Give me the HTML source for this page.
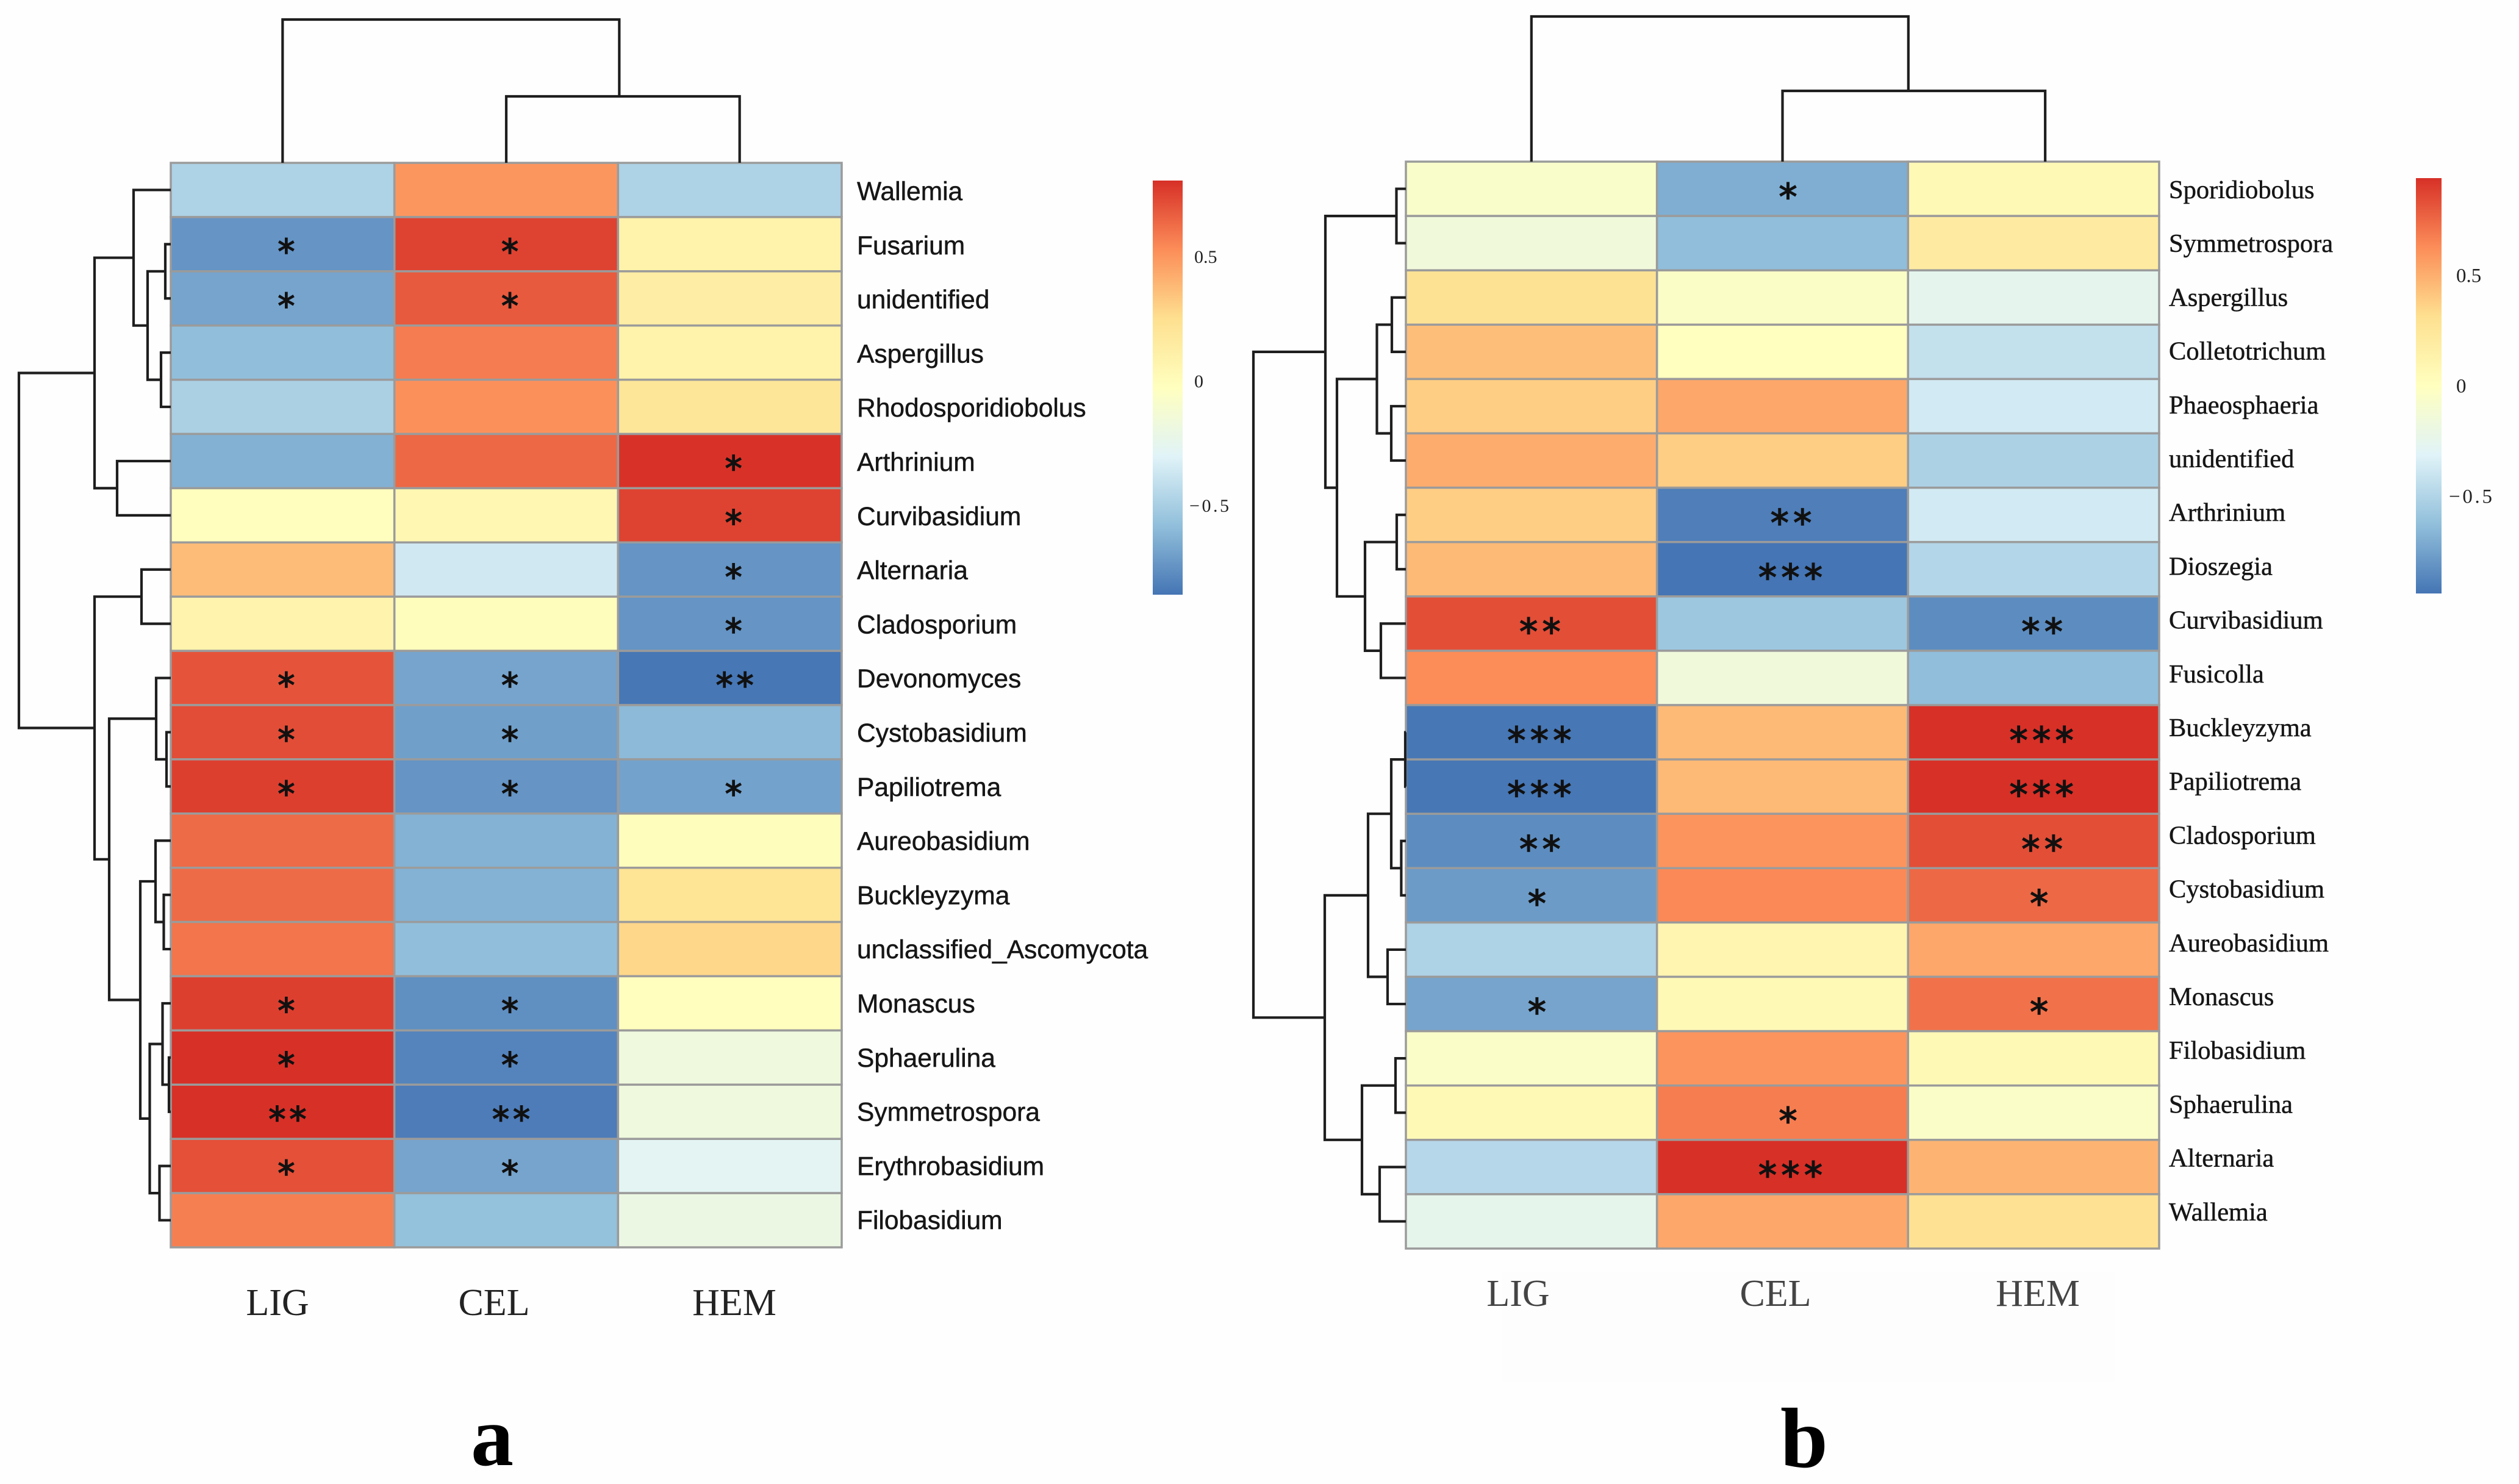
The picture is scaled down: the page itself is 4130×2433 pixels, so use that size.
<!DOCTYPE html>
<html lang="en">
<head>
<meta charset="utf-8">
<title>Clustered correlation heatmaps of fungal genera versus LIG, CEL and HEM</title>
<style>
html,body{margin:0;padding:0;background:#fefefe;}
svg{display:block;}
</style>
</head>
<body>
<svg id="chart" xmlns="http://www.w3.org/2000/svg" width="4130" height="2433" viewBox="0 0 4130 2433">
  <rect x="0" y="0" width="4130" height="2433" fill="#fefefe"/>
  <rect x="2463" y="2085" width="1005" height="180" fill="#fdfdfd"/>
</svg>
<script>
// ---------- shared data ----------
const palette = ['#4575B4','#91BFDB','#E0F3F8','#FFFFBF','#FEE090','#FC8D59','#D73027'];
const columns = ['LIG','CEL','HEM'];
const cbarTicks = [0.5,0,-0.5];

// ---------- panel a data ----------
const aRows = ['Wallemia','Fusarium','unidentified','Aspergillus','Rhodosporidiobolus','Arthrinium','Curvibasidium','Alternaria','Cladosporium','Devonomyces','Cystobasidium','Papiliotrema','Aureobasidium','Buckleyzyma','unclassified_Ascomycota','Monascus','Sphaerulina','Symmetrospora','Erythrobasidium','Filobasidium'];
const aLig = [-0.48,-0.74,-0.68,-0.58,-0.49,-0.635,-0.02,0.37,0.08,0.70,0.72,0.76,0.63,0.63,0.60,0.76,0.81,0.81,0.71,0.57];
const aCel = [0.50,0.75,0.68,0.58,0.52,0.64,0.05,-0.36,-0.01,-0.68,-0.70,-0.74,-0.63,-0.63,-0.58,-0.76,-0.80,-0.83,-0.68,-0.57];
const aHem = [-0.48,0.09,0.135,0.09,0.20,0.80,0.75,-0.74,-0.74,-0.85,-0.60,-0.69,-0.01,0.22,0.28,-0.02,-0.17,-0.17,-0.28,-0.20];
const aSigLig = [0,1,1,0,0,0,0,0,0,1,1,1,0,0,0,1,1,2,1,0];
const aSigCel = [0,1,1,0,0,0,0,0,0,1,1,1,0,0,0,1,1,2,1,0];
const aSigHem = [0,0,0,0,0,1,1,1,1,2,0,1,0,0,0,0,0,0,0,0];
const aRange = [-0.858,0.806];
const aRowTree = [249,
  [125,
    [61,0,[38,[9,1,2],[16,3,4]]],
    [88,5,6]],
  [125,
    [48,7,8],
    [101,
      [24,9,[7,10,11]],
      [50,
        [25,12,[11.5,13,14]],
        [34.5,[13.5,15,[3,16,17]],[18.5,18,19]]]]]];
const aColTree = [235,0,[109,1,2]];

// ---------- panel b data ----------
const bRows = ['Sporidiobolus','Symmetrospora','Aspergillus','Colletotrichum','Phaeosphaeria','unidentified','Arthrinium','Dioszegia','Curvibasidium','Fusicolla','Buckleyzyma','Papiliotrema','Cladosporium','Cystobasidium','Aureobasidium','Monascus','Filobasidium','Sphaerulina','Alternaria','Wallemia'];
const bLig = [-0.06,-0.15,0.29,0.44,0.38,0.51,0.38,0.46,0.84,0.63,-0.93,-0.93,-0.84,-0.78,-0.51,-0.74,-0.05,0.06,-0.48,-0.25];
const bCel = [-0.70,-0.63,-0.04,0,0.53,0.38,-0.90,-0.94,-0.58,-0.15,0.46,0.46,0.60,0.64,0.10,0.06,0.60,0.68,0.94,0.53];
const bHem = [0.06,0.20,-0.26,-0.43,-0.37,-0.52,-0.37,-0.49,-0.84,-0.63,0.94,0.94,0.84,0.75,0.53,0.72,0.06,-0.05,0.48,0.30];
const bSigLig = [0,0,0,0,0,0,0,0,2,0,3,3,2,1,0,1,0,0,0,0];
const bSigCel = [1,0,0,0,0,0,2,3,0,0,0,0,0,0,0,0,0,1,3,0];
const bSigHem = [0,0,0,0,0,0,0,0,2,0,3,3,2,1,0,1,0,0,0,0];
const bRange = [-0.94,0.94];
const bRowTree = [250,
  [132,
    [15.5,0,1],
    [113,
      [47.5,[23,2,3],[24,4,5]],
      [67,[15,6,7],[41,8,9]]]],
  [133,
    [62,
      [24,[1,10,11],[7.6,12,13]],
      [30,14,15]],
    [72,[17,16,17],[43,18,19]]]];
const bColTree = [238,0,[116,1,2]];

// ---------- drawing helpers ----------
const svgRoot = document.getElementById('chart');
const NS = 'http://www.w3.org/2000/svg';
function make(tag, attrs, parent, text){
  const n = document.createElementNS(NS, tag);
  for (const k in attrs) n.setAttribute(k, attrs[k]);
  if (text !== undefined) n.textContent = text;
  parent.appendChild(n);
  return n;
}
function hexToRgb(h){return [1,3,5].map(i=>parseInt(h.substr(i,2),16));}
function colorScale(range){
  return function(v){
    const t = Math.max(0,Math.min(1,(v-range[0])/(range[1]-range[0])))*(palette.length-1);
    const i = Math.min(palette.length-2,Math.floor(t));
    const a = hexToRgb(palette[i]), b = hexToRgb(palette[i+1]), f = t-i;
    return 'rgb('+a.map((c,j)=>Math.round(c+(b[j]-c)*f)).join(',')+')';
  };
}
function drawRowTree(node, g, xOf, yOf, leafX, color, width){
  if (typeof node === 'number') return {x:leafX, y:yOf(node)};
  const l = drawRowTree(node[1], g, xOf, yOf, leafX, color, width);
  const r = drawRowTree(node[2], g, xOf, yOf, leafX, color, width);
  const x = xOf(node[0]);
  const link = make('path',{d:'M'+l.x+' '+l.y+'H'+x+'V'+r.y+'H'+r.x,fill:'none',stroke:color,'stroke-width':width},g);
  
  
  return {x:x, y:(l.y+r.y)/2};
}
function drawColTree(node, g, xOf, yOf, leafY, color, width, shift){
  if (typeof node === 'number') return {x:xOf(node), y:leafY};
  const l = drawColTree(node[1], g, xOf, yOf, leafY, color, width, shift);
  const r = drawColTree(node[2], g, xOf, yOf, leafY, color, width, shift);
  const y = yOf(node[0]);
  const link = make('path',{d:'M'+l.x+' '+l.y+'V'+y+'H'+r.x+'V'+r.y,fill:'none',stroke:color,'stroke-width':width},g);
  
  
  return {x:(l.x+r.x)/2+shift, y:y};
}

function drawPanel(p){
  const panel = make('g',{},svgRoot);
  
  
  const colW = (p.right-p.left)/3, rowH = (p.bottom-p.top)/p.rows.length;
  const xCol = i => p.left+colW*(i+0.5);
  const yRow = i => p.top+rowH*(i+0.5);
  const color = colorScale(p.range);

  // cells
  const cells = make('g',{},panel);
  
  
  p.series.forEach((vals,c)=>{
    vals.forEach((v,r)=>{
      const cell = make('rect',{x:p.left+colW*c,y:p.top+rowH*r,width:colW,height:rowH,fill:color(v),stroke:'#9b9b9b','stroke-width':3.5},cells);
      
      
    });
  });

  // significance stars
  p.sig.forEach((arr,c)=>{
    arr.forEach((n,r)=>{
      if (!n) return;
      const off = [0,p.starOff1,p.starOff2,p.starOff3][n];
      const star = make('text',{x:xCol(c)+off+p.starGap/2,y:yRow(r)+p.starDy,'text-anchor':'middle','font-family':'"DejaVu Sans",sans-serif','font-size':p.starSize,'letter-spacing':p.starGap,fill:'#111',stroke:'#111','stroke-width':1.6},panel,'*'.repeat(n));
      
      
    });
  });

  // row labels
  p.rows.forEach((name,r)=>{
    const label = make('text',{x:p.labelX,y:p.labelY0+p.labelStep*r,'font-family':p.labelFont,'font-size':42.5,fill:'#161616',stroke:'#161616','stroke-width':0.5},panel,name);
    
    
  });

  // column labels
  columns.forEach((name,c)=>{
    const label = make('text',{x:p.colLabelX[c],y:p.colLabelY,'text-anchor':'middle','font-family':'"Liberation Serif",serif','font-size':62,fill:p.colLabelColor},panel,name);
    
    
  });

  // dendrograms
  const rowDend = make('g',{},panel);
  
  
  drawRowTree(p.rowTree,rowDend,h=>p.left-h,yRow,p.left,'#1e1e1e',4.2);
  const colDend = make('g',{},panel);
  
  
  drawColTree(p.colTree,colDend,i=>xCol(i)+p.stemOffset[i],h=>p.top-h,p.top,'#1e1e1e',4.2,p.nodeShift);

  // colour bar
  const defs = make('defs',{},panel);
  const grad = make('linearGradient',{id:'grad-'+p.id,x1:0,y1:1,x2:0,y2:0},defs);
  palette.forEach((c,i)=>make('stop',{offset:i/(palette.length-1),'stop-color':c},grad));
  const bar = make('rect',{x:p.barX,y:p.barTop,width:p.barW,height:p.barBottom-p.barTop,fill:'url(#grad-'+p.id+')'},panel);
  
  
  const barY = v => p.barZero-p.barPerUnit*v;
  cbarTicks.forEach(v=>{
    const s = v<0 ? '\u2212'+Math.abs(v) : String(v);
    const attrs = {x:p.barX+p.barW+p.tickGap-(v<0?p.negShift:0),y:barY(v)+p.tickFont*0.33,'font-family':'"Liberation Serif",serif','font-size':p.tickFont,fill:'#222'};
    if (v<0) attrs.textLength = p.negLen;
    const t = make('text',attrs,panel,s);
    
    
  });

  // panel letter
  const letter = make('text',{x:p.letterX,y:p.letterY,'font-family':'"Liberation Serif",serif','font-weight':'bold','font-size':140,fill:'#000'},panel,p.id);
  
  
}

drawPanel({id:'a',rows:aRows,series:[aLig,aCel,aHem],sig:[aSigLig,aSigCel,aSigHem],range:aRange,rowTree:aRowTree,colTree:aColTree,
  left:280,right:1380,top:267,bottom:2045,stemOffset:[0,0,16],nodeShift:-6,
  starSize:56,starGap:6,starDy:31.5,starOff1:6,starOff2:8,starOff3:8,
  labelX:1405,labelY0:328,labelStep:88.8,labelFont:'"Liberation Sans",sans-serif',
  colLabelX:[455,810,1204],colLabelY:2156,colLabelColor:'#222',
  barX:1890,barW:49,barTop:296,barBottom:975,barZero:625,barPerUnit:408,tickFont:30,tickGap:19,negShift:8,negLen:65,
  letterX:772,letterY:2402});
drawPanel({id:'b',rows:bRows,series:[bLig,bCel,bHem],sig:[bSigLig,bSigCel,bSigHem],range:bRange,rowTree:bRowTree,colTree:bColTree,
  left:2305,right:3540,top:265,bottom:2047,stemOffset:[0,0,19],nodeShift:-9,
  starSize:60,starGap:7.5,starDy:34,starOff1:9,starOff2:14,starOff3:13,
  labelX:3556,labelY0:325,labelStep:88.2,labelFont:'"Liberation Serif",serif',
  colLabelX:[2489,2911,3341],colLabelY:2141,colLabelColor:'#444',
  barX:3961,barW:42,barTop:292,barBottom:973,barZero:632.5,barPerUnit:362,tickFont:33,tickGap:24,negShift:12,negLen:71,
  letterX:2919,letterY:2405});
</script>
</body>
</html>
